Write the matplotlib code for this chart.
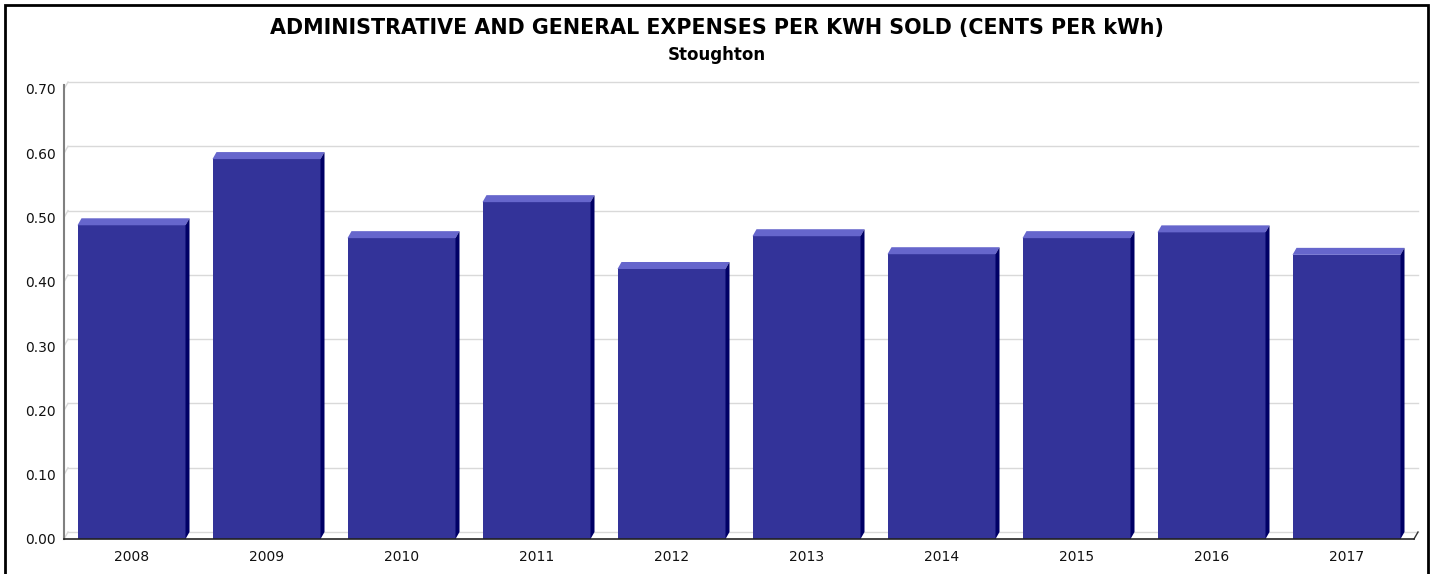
import matplotlib
matplotlib.use("Agg")
import matplotlib.pyplot as plt
from matplotlib.patches import Polygon, Rectangle
from matplotlib.lines import Line2D

years = ["2008", "2009", "2010", "2011", "2012", "2013", "2014", "2015", "2016", "2017"]
values = [0.488, 0.591, 0.468, 0.524, 0.420, 0.471, 0.443, 0.468, 0.477, 0.442]
yticks = [0.0, 0.1, 0.2, 0.3, 0.4, 0.5, 0.6, 0.7]
title = "ADMINISTRATIVE AND GENERAL EXPENSES PER KWH SOLD (CENTS PER kWh)"
subtitle = "Stoughton"

W, H, DPI = 1433, 574, 100
fig = plt.figure(figsize=(W / DPI, H / DPI), dpi=DPI)
fig.patch.set_facecolor("white")

# plot area (front plane) in pixels
x0, x1 = 64, 1414
yb, yt = 539, 89
ax = fig.add_axes([x0 / W, (H - yb) / H, (x1 - x0) / W, (yb - yt) / H])
ax.set_xlim(-0.5, len(years) - 0.5)
ax.set_ylim(0, 0.7)
ax.set_facecolor("none")
for s in ax.spines.values():
    s.set_visible(False)

# pixel -> data conversions
px_x = (len(years)) / (x1 - x0)
px_y = 0.7 / (yb - yt)
dx, dy = 4 * px_x, 7 * px_y

# back grid lines
grid_c = "#d9d9d9"
for t in yticks:
    ax.add_line(Line2D([-0.5 + dx, len(years) - 0.5 + dx], [t + dy, t + dy], color=grid_c, lw=1.0, zorder=1, clip_on=False))
    ax.add_line(Line2D([-0.5, -0.5 + dx], [t, t + dy], color=grid_c, lw=1.0, zorder=1, clip_on=False))
# floor right edge
ax.add_line(Line2D([len(years) - 0.5, len(years) - 0.5 + dx], [0, dy], color="#333333", lw=1.0, zorder=1, clip_on=False))
# axes lines
ax.add_line(Line2D([-0.5, -0.5], [0, 0.7 + dy * 0.5], color="#808080", lw=1.5, zorder=5, clip_on=False))
ax.add_line(Line2D([-0.5, len(years) - 0.5], [0, 0], color="#222222", lw=1.2, zorder=5, clip_on=False))

# bars
bw = 108 * px_x
front_c, top_c, side_c = "#333399", "#6666cc", "#000066"
for i, v in enumerate(values):
    left = i - bw / 2
    right = left + bw
    ax.add_patch(Rectangle((left, 0), bw, v, facecolor=front_c, edgecolor="none", zorder=3))
    ax.add_patch(Polygon([(left, v), (left + dx, v + dy), (right + dx, v + dy), (right, v)],
                         closed=True, facecolor=top_c, edgecolor="none", zorder=3))
    ax.add_patch(Polygon([(right, 0), (right + dx, dy), (right + dx, v + dy), (right, v)],
                         closed=True, facecolor=side_c, edgecolor="none", zorder=3))

ax.set_yticks(yticks)
ax.set_yticklabels([f"{t:.2f}" for t in yticks], fontsize=10, color="#111111")
ax.set_xticks(range(len(years)))
ax.set_xticklabels(years, fontsize=10, color="#111111")
ax.tick_params(axis="both", length=0, pad=6)
ax.tick_params(axis="x", pad=8)

fig.text(0.5, 1 - 28 / H, title, ha="center", va="center", fontsize=14.9, fontweight="bold")
fig.text(0.5, 1 - 55 / H, subtitle, ha="center", va="center", fontsize=12, fontweight="bold")

# outer border
fig.add_artist(Rectangle((4.5 / W, -0.01), (1428 - 4.5) / W, 1 - 5 / H + 0.01, transform=fig.transFigure,
                         facecolor="none", edgecolor="black", lw=2.0))

fig.savefig("out.png", dpi=DPI)
